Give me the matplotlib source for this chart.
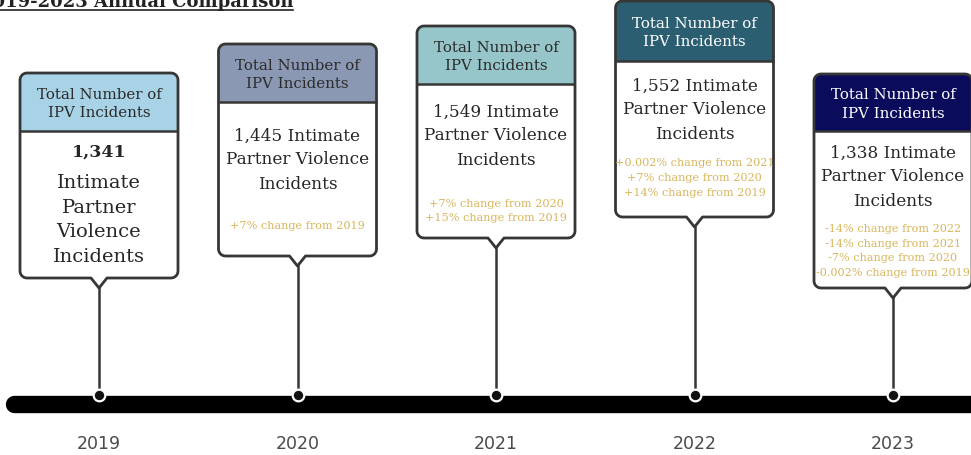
import matplotlib
matplotlib.use("Agg")
import matplotlib.pyplot as plt
import numpy as np
from matplotlib.path import Path
from matplotlib.patches import PathPatch, Rectangle

# data
years = ["2019", "2020", "2021", "2022", "2023"]
counts = ["1,341", "1,445", "1,549", "1,552", "1,338"]
header_text = "Total Number of\nIPV Incidents"
header_colors = ["#A8D2E6", "#8A98B3", "#96C6C9", "#2C5E72", "#0B0B5B"]
header_text_colors = ["#2b2b2b", "#2b2b2b", "#2b2b2b", "white", "white"]
notes = [
    [],
    ["+7% change from 2019"],
    ["+7% change from 2020", "+15% change from 2019"],
    ["+0.002% change from 2021", "+7% change from 2020", "+14% change from 2019"],
    ["-14% change from 2022", "-14% change from 2021", "-7% change from 2020",
     "-0.002% change from 2019"],
]

# layout (pixels, y downwards)
W, H = 971, 456
x0, dx = 99, 198.5
half_w = 79
tops = [74, 45, 27, 2, 75]
hdr_bottoms = [132, 103, 85, 62, 132]
bottoms = [279, 257, 239, 218, 289]
main_y = [205, 160, 136, 110, 177]
notes_y = [0, 226, 211, 178, 251]
line_y = 405
dot_y = 396
notch = 10
r = 7

edge = "#363636"
txt = "#262626"
gold = "#D8B65C"
serif = "DejaVu Serif"


def card_path(xc, top, bottom):
    l, rr = xc - half_w, xc + half_w
    verts = []
    def arc(cx, cy, a0, a1):
        for a in np.linspace(a0, a1, 8):
            verts.append((cx + r * np.cos(a), cy + r * np.sin(a)))
    arc(l + r, top + r, np.pi, 1.5 * np.pi)
    arc(rr - r, top + r, 1.5 * np.pi, 2 * np.pi)
    arc(rr - r, bottom - r, 0, 0.5 * np.pi)
    verts += [(xc + 8, bottom), (xc, bottom + notch), (xc - 8, bottom)]
    arc(l + r, bottom - r, 0.5 * np.pi, np.pi)
    verts.append(verts[0])
    codes = [Path.MOVETO] + [Path.LINETO] * (len(verts) - 2) + [Path.CLOSEPOLY]
    return Path(verts, codes)


fig = plt.figure(figsize=(W / 100, H / 100), dpi=100)
ax = fig.add_axes([0, 0, 1, 1])
ax.set_xlim(0, W)
ax.set_ylim(H, 0)
ax.axis("off")

# timeline
ax.plot([14, W + 40], [line_y, line_y], color="black", lw=12.5,
        solid_capstyle="round", zorder=1)

for i, yr in enumerate(years):
    xc = x0 + dx * i
    p = card_path(xc, tops[i], bottoms[i])
    face = PathPatch(p, facecolor="white", edgecolor="none", zorder=2)
    ax.add_patch(face)
    hdr = Rectangle((xc - half_w - 2, tops[i] - 2), 2 * half_w + 4,
                    hdr_bottoms[i] - tops[i] + 2, facecolor=header_colors[i],
                    edgecolor="none", zorder=3)
    ax.add_patch(hdr)
    hdr.set_clip_path(face)
    ax.plot([xc - half_w, xc + half_w], [hdr_bottoms[i]] * 2, color=edge,
            lw=1.8, solid_capstyle="butt", zorder=4)
    ax.add_patch(PathPatch(p, facecolor="none", edgecolor=edge, lw=2.0,
                           joinstyle="round", zorder=5))
    # stem and dot
    ax.plot([xc, xc], [bottoms[i] + notch, dot_y], color=edge, lw=1.8, zorder=1)
    ax.scatter([xc], [dot_y], s=70, color="#111111", edgecolors="white",
               linewidths=1.6, zorder=6)

    ax.text(xc, (tops[i] + hdr_bottoms[i]) / 2 + 1, header_text, ha="center",
            va="center", fontsize=10.8, family=serif, color=header_text_colors[i],
            linespacing=1.4, zorder=7)

    if i == 0:
        ax.text(xc, main_y[i] - 53, counts[i], ha="center", va="center",
                fontsize=12.5, family=serif, fontweight="bold", color=txt,
                zorder=7)
        ax.text(xc, main_y[i] + 15, "Intimate\nPartner\nViolence\nIncidents",
                ha="center", va="center", fontsize=14, family=serif,
                color=txt, linespacing=1.47, zorder=7)
    else:
        ax.text(xc, main_y[i], counts[i] + " Intimate\nPartner Violence\nIncidents",
                ha="center", va="center", fontsize=12.2, family=serif,
                color=txt, linespacing=1.55, zorder=7)
    if notes[i]:
        ax.text(xc, notes_y[i], "\n".join(notes[i]), ha="center", va="center",
                fontsize=8.1, family=serif, color=gold, linespacing=1.6,
                zorder=7)

    ax.text(xc, 444, yr, ha="center", va="center", fontsize=12.5,
            family=["Liberation Sans Narrow", "DejaVu Sans"], color="#4a4a4a")

# cropped title at the top
title = ax.text(293, 7, "2019-2023 Annual Comparison", ha="right",
                va="baseline", fontsize=13, family=serif, fontweight="bold",
                color="#222222")
fig.canvas.draw()
bb = title.get_window_extent().transformed(ax.transData.inverted())
ax.plot([bb.x0, bb.x1], [10.5, 10.5], color="#222222", lw=1.2)

fig.savefig("out.png", dpi=100)
